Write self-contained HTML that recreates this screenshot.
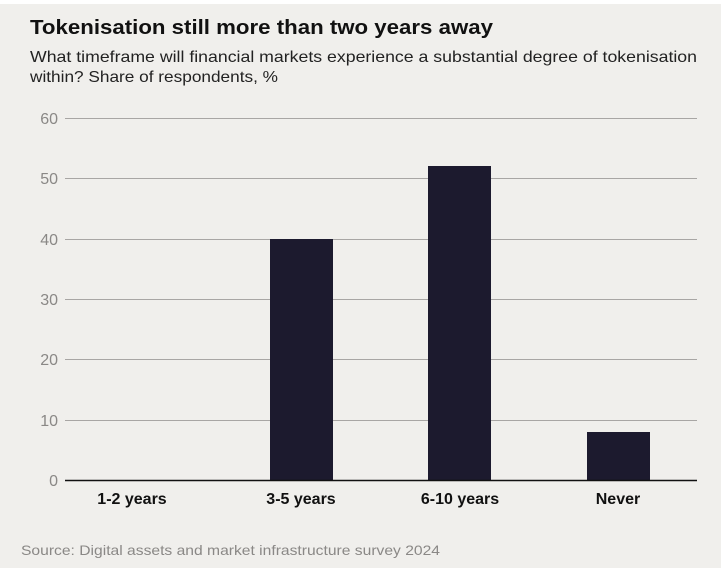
<!DOCTYPE html>
<html><head><meta charset="utf-8"><style>
html,body{margin:0;padding:0;background:#f0efec;}
svg{display:block;font-family:"Liberation Sans",sans-serif;}
</style></head><body>
<svg width="721" height="568" viewBox="0 0 721 568">
<rect x="0" y="0" width="721" height="568" fill="#f0efec"/>
<rect x="0" y="0" width="721" height="4" fill="#ffffff"/>
<text x="30" y="34" font-size="20" font-weight="bold" fill="#111" textLength="463" lengthAdjust="spacingAndGlyphs">Tokenisation still more than two years away</text>
<text x="30" y="62" font-size="16" fill="#222" textLength="667" lengthAdjust="spacingAndGlyphs">What timeframe will financial markets experience a substantial degree of tokenisation</text>
<text x="30" y="82" font-size="16" fill="#222" textLength="248" lengthAdjust="spacingAndGlyphs">within? Share of respondents, %</text>
<g stroke="#a8a6a4" stroke-width="1">
<line x1="65" x2="697" y1="118.5" y2="118.5"/>
<line x1="65" x2="697" y1="178.5" y2="178.5"/>
<line x1="65" x2="697" y1="239.5" y2="239.5"/>
<line x1="65" x2="697" y1="299.5" y2="299.5"/>
<line x1="65" x2="697" y1="359.5" y2="359.5"/>
<line x1="65" x2="697" y1="420.5" y2="420.5"/>
</g>
<g font-size="16" fill="#8a8886" text-anchor="end">
<text x="58" y="124">60</text>
<text x="58" y="184">50</text>
<text x="58" y="245">40</text>
<text x="58" y="305">30</text>
<text x="58" y="365">20</text>
<text x="58" y="426">10</text>
<text x="58" y="486">0</text>
</g>
<g fill="#1c1a2e">
<rect x="270" y="239" width="63" height="241"/>
<rect x="428" y="166" width="63" height="314"/>
<rect x="587" y="432" width="63" height="48"/>
</g>
<line x1="65" x2="697" y1="480.5" y2="480.5" stroke="#111" stroke-width="1.5"/>
<g font-size="16" font-weight="bold" fill="#111" text-anchor="middle">
<text x="132" y="504">1-2 years</text>
<text x="301" y="504">3-5 years</text>
<text x="460" y="504">6-10 years</text>
<text x="618" y="504">Never</text>
</g>
<text x="21" y="555" font-size="14" fill="#8a8886" textLength="419" lengthAdjust="spacingAndGlyphs">Source: Digital assets and market infrastructure survey 2024</text>
</svg>
</body></html>
